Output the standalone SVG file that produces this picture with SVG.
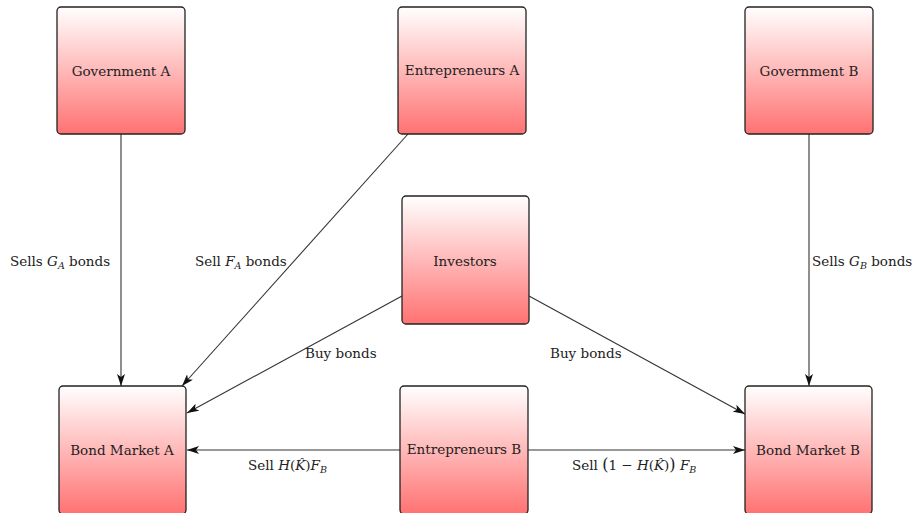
<svg xmlns="http://www.w3.org/2000/svg" width="914" height="513" viewBox="0 0 914 513">
<defs>
<linearGradient id="g" x1="0" y1="0" x2="0" y2="1">
<stop offset="0" stop-color="#ffffff"/>
<stop offset="1" stop-color="#ff7272"/>
</linearGradient>
<marker id="a" viewBox="0 0 12 8" refX="12" refY="4" markerWidth="12" markerHeight="8" markerUnits="userSpaceOnUse" orient="auto">
<path d="M0,0 L12,4 L0,8 L3,4 Z" fill="#111"/>
</marker>
<style>
.box{fill:url(#g);stroke:#222;stroke-width:1.3}
.t{font-family:"DejaVu Serif","Liberation Serif",serif;font-size:13.5px;fill:#222;text-anchor:middle}
.l{font-family:"DejaVu Serif","Liberation Serif",serif;font-size:13.5px;fill:#222}
.c{stroke:#333;stroke-width:1.1;fill:none;marker-end:url(#a)}
</style>
</defs>
<rect width="914" height="513" fill="#fff"/>
<g id="connectors">
<line class="c" x1="121" y1="134" x2="121" y2="386"/>
<line class="c" x1="408" y1="134" x2="182" y2="386"/>
<line class="c" x1="809" y1="134" x2="809" y2="386"/>
<line class="c" x1="402" y1="296" x2="187" y2="413"/>
<line class="c" x1="529" y1="296" x2="745" y2="414"/>
<line class="c" x1="400" y1="450" x2="187" y2="450"/>
<line class="c" x1="528" y1="450" x2="745" y2="450"/>
<text class="l" x="10" y="266">Sells <tspan font-style="italic">G</tspan><tspan font-style="italic" font-size="9.5" dy="3">A</tspan><tspan dy="-3"> bonds</tspan></text>
<text class="l" x="195" y="266">Sell <tspan font-style="italic">F</tspan><tspan font-style="italic" font-size="9.5" dy="3">A</tspan><tspan dy="-3"> bonds</tspan></text>
<text class="l" x="812" y="266">Sells <tspan font-style="italic">G</tspan><tspan font-style="italic" font-size="9.5" dy="3">B</tspan><tspan dy="-3"> bonds</tspan></text>
<text class="l" x="305" y="358">Buy bonds</text>
<text class="l" x="550" y="358">Buy bonds</text>
<text class="l" x="248" y="470">Sell <tspan font-style="italic">H</tspan>(<tspan font-style="italic">K̂</tspan>)<tspan font-style="italic">F</tspan><tspan font-style="italic" font-size="9.5" dy="3">B</tspan></text>
<text class="l" x="572" y="470">Sell <tspan font-size="16">(</tspan>1 − <tspan font-style="italic">H</tspan>(<tspan font-style="italic">K̂</tspan>)<tspan font-size="16">)</tspan> <tspan font-style="italic">F</tspan><tspan font-style="italic" font-size="9.5" dy="3">B</tspan></text>
</g>
<g id="govA"><rect class="box" x="57" y="7" width="128" height="127" rx="4"/><text class="t" x="121" y="76">Government A</text></g>
<g id="entA"><rect class="box" x="398" y="7" width="128" height="127" rx="4"/><text class="t" x="462" y="75">Entrepreneurs A</text></g>
<g id="govB"><rect class="box" x="745" y="7" width="128" height="127" rx="4"/><text class="t" x="809" y="76">Government B</text></g>
<g id="investors"><rect class="box" x="402" y="196" width="127" height="128" rx="4"/><text class="t" x="465" y="266">Investors</text></g>
<g id="bmA"><rect class="box" x="59" y="386" width="127" height="128" rx="4"/><text class="t" x="122" y="455">Bond Market A</text></g>
<g id="entB"><rect class="box" x="400" y="386" width="128" height="128" rx="4"/><text class="t" x="464" y="454">Entrepreneurs B</text></g>
<g id="bmB"><rect class="box" x="745" y="386" width="127" height="128" rx="4"/><text class="t" x="808" y="455">Bond Market B</text></g>
</svg>
